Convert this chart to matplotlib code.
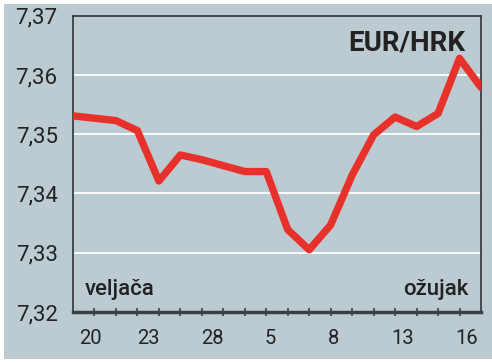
import matplotlib
matplotlib.use("Agg")
import matplotlib.pyplot as plt
from matplotlib.patches import Rectangle

# EUR/HRK daily rate, 20 trading days (Feb-Mar)
days = list(range(20))
rate = [7.3531, 7.3527, 7.3523, 7.3506, 7.3421, 7.3465, 7.3457, 7.3447,
        7.3437, 7.3437, 7.3339, 7.3305, 7.3347, 7.3431, 7.3499, 7.3529,
        7.3513, 7.3535, 7.3628, 7.3579]

label_pos = [0.8, 3.5, 6.5, 9.2, 12.15, 15.35, 18.35]
label_txt = ["20", "23", "28", "5", "8", "13", "16"]
y_ticks = [7.32, 7.33, 7.34, 7.35, 7.36, 7.37]
y_txt = ["7,32", "7,33", "7,34", "7,35", "7,36", "7,37"]

bg = "#bccbd2"
dark = "#222222"
plt.rcParams["font.family"] = ["Roboto", "DejaVu Sans"]

W, H = 492, 363
fig = plt.figure(figsize=(W / 100, H / 100), dpi=100, facecolor="white")
fig.patches.append(Rectangle((4 / W, 4 / H), 1 - 4 / W, 1 - 8 / H,
                             transform=fig.transFigure, facecolor=bg,
                             edgecolor="none", zorder=-10))

ax = fig.add_axes([73 / W, 51 / H, 408 / W, 296.3 / H])
ax.set_facecolor(bg)

for y in y_ticks[1:-1]:
    ax.axhline(y, color="white", lw=1.3, zorder=1)

ax.plot(days, rate, color="#e8312a", lw=5.3, solid_capstyle="round",
        solid_joinstyle="round", zorder=3)

ax.set_xlim(0, 19)
ax.set_ylim(7.32, 7.37)

ax.set_yticks(y_ticks)
ax.set_yticklabels(y_txt, fontsize=16, color=dark)
ax.tick_params(axis="y", length=0, pad=11)

ax.set_xticks(label_pos)
ax.set_xticklabels(label_txt, fontsize=14.5, color=dark)
ax.set_xticks(range(1, 19), minor=True)
ax.tick_params(axis="x", which="major", length=0, pad=12)
ax.tick_params(axis="x", which="minor", direction="inout", length=6,
               width=1.1, color="#333333")

for s in ["left", "top", "right"]:
    ax.spines[s].set_color("#2f3438")
    ax.spines[s].set_linewidth(1.2)
ax.spines["bottom"].set_color("#3a3f43")
ax.spines["bottom"].set_linewidth(2.5)

ax.text(0.961, 0.884, "EUR/HRK", transform=ax.transAxes, ha="right",
        va="baseline", fontsize=20, fontweight="bold", color=dark)
ax.text(0.029, 0.057, "veljača", transform=ax.transAxes, ha="left",
        va="baseline", fontsize=16, fontweight="medium", color=dark)
ax.text(0.969, 0.057, "ožujak", transform=ax.transAxes, ha="right",
        va="baseline", fontsize=16, fontweight="medium", color=dark)

fig.savefig("out.png", dpi=100, facecolor="white")
